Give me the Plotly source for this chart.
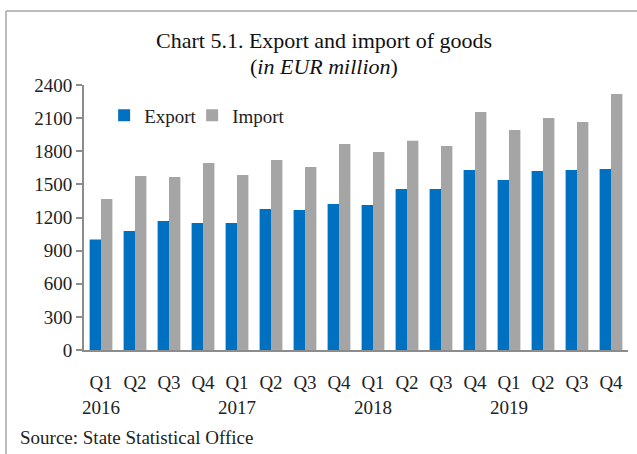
import plotly.graph_objects as go

quarters = ["Q1", "Q2", "Q3", "Q4"] * 4
years = ["2016", "", "", "", "2017", "", "", "", "2018", "", "", "", "2019", "", "", ""]
export_vals = [1000, 1078, 1169, 1151, 1151, 1277, 1268, 1323,
               1314, 1459, 1459, 1631, 1540, 1622, 1631, 1640]
import_vals = [1368, 1576, 1567, 1694, 1585, 1721, 1658, 1866,
               1794, 1894, 1848, 2156, 1993, 2102, 2066, 2319]
y_ticks = [0, 300, 600, 900, 1200, 1500, 1800, 2100, 2400]

cats = list(range(len(quarters)))
tick_text = [q + "<br>" + y if y else q for q, y in zip(quarters, years)]

FONT = "Liberation Serif"
AXIS_COL = "#8c8c8c"

fig = go.Figure()
fig.add_trace(go.Bar(x=cats, y=export_vals, name="Export", marker_color="#0070C0",
                     marker_line_width=0, legendwidth=43))
fig.add_trace(go.Bar(x=cats, y=import_vals, name="Import", marker_color="#A5A5A5",
                     marker_line_width=0, legendwidth=80))

fig.update_layout(
    width=637, height=454,
    margin=dict(l=84, r=9, t=85, b=104),
    paper_bgcolor="white", plot_bgcolor="white",
    barmode="group", bargap=0.33, bargroupgap=0,
    font=dict(family=FONT, size=18, color="#222222"),
    showlegend=True,
    legend=dict(orientation="h", x=0.037, y=0.885, xanchor="left", yanchor="middle",
                font=dict(family=FONT, size=19), bgcolor="rgba(0,0,0,0)",
                itemwidth=30, tracegroupgap=0),
    xaxis=dict(tickmode="array", tickvals=cats, ticktext=tick_text,
               range=[-0.5, len(cats) - 0.5],
               showline=True, linecolor=AXIS_COL, linewidth=2,
               ticks="", showgrid=False, zeroline=False, ticklabelstandoff=14,
               tickfont=dict(family=FONT, size=19)),
    yaxis=dict(range=[0, 2400], tickvals=y_ticks,
               showline=True, linecolor=AXIS_COL, linewidth=2,
               ticks="outside", ticklen=6, tickcolor=AXIS_COL, tickwidth=1.5,
               showgrid=False, zeroline=False,
               tickfont=dict(family=FONT, size=19)),
    annotations=[
        dict(text="Chart 5.1. Export and import of goods", xref="paper", yref="paper",
             x=0.442, y=1.168, xanchor="center", yanchor="middle", showarrow=False,
             font=dict(family=FONT, size=22, color="#111111")),
        dict(text="(<i>in EUR million</i>)", xref="paper", yref="paper",
             x=0.442, y=1.068, xanchor="center", yanchor="middle", showarrow=False,
             font=dict(family=FONT, size=22, color="#111111")),
        dict(text="Source: State Statistical Office", xref="paper", yref="paper",
             x=-0.121, y=-0.332, xanchor="left", yanchor="middle", showarrow=False,
             font=dict(family=FONT, size=19, color="#222222")),
    ],
    shapes=[
        dict(type="line", xref="paper", yref="paper", x0=-0.1434, x1=-0.1434,
             y0=1.279, y1=-0.5, line=dict(color="#a6a6a6", width=1.5)),
        dict(type="line", xref="paper", yref="paper", x0=-0.1434, x1=1.1,
             y0=1.279, y1=1.279, line=dict(color="#a6a6a6", width=1.5)),
    ],
)

fig.write_html("out.html", config={"displayModeBar": False},
               post_script="document.body.style.margin='0px';document.body.style.overflow='hidden';")
